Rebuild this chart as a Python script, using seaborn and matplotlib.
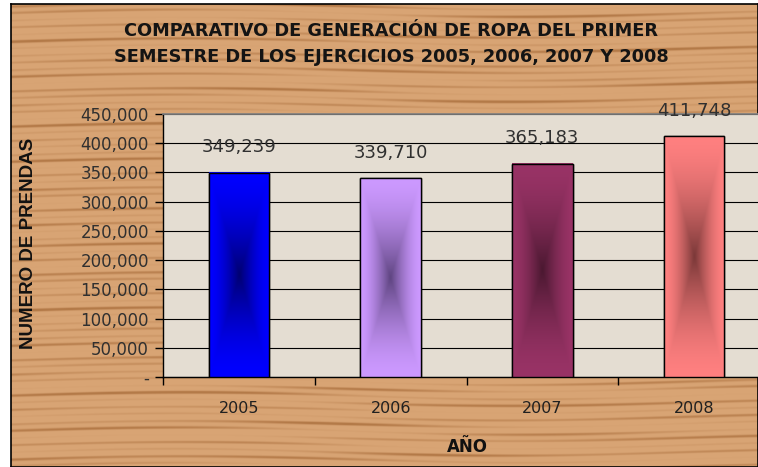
import numpy as np
import pandas as pd
import seaborn as sns
import matplotlib.pyplot as plt
from matplotlib.patches import Rectangle
from matplotlib.colors import to_rgb

# datos
anios = ['2005', '2006', '2007', '2008']
prendas = [349239, 339710, 365183, 411748]
colores = ['#0000FF', '#CC99FF', '#993366', '#FF8080']
centros = ['#000070', '#5E4480', '#4A1830', '#7A3838']
y_ticks = list(range(0, 450001, 50000))

titulo_1 = 'COMPARATIVO DE GENERACIÓN DE ROPA DEL PRIMER'
titulo_2 = 'SEMESTRE DE LOS EJERCICIOS 2005, 2006, 2007 Y 2008'

df = pd.DataFrame({'anio': anios, 'prendas': prendas})

sns.set_theme(style='white')
plt.rcParams['font.family'] = ['DejaVu Sans']

W, H = 758, 467
fig = plt.figure(figsize=(W / 100, H / 100), dpi=100)
fig.patch.set_facecolor('white')

# fondo "madera": vetas horizontales suaves
bg = fig.add_axes([11 / W, 0, 1 - 11 / W, 1 - 4 / H], zorder=-5)
yy = np.linspace(0, 1, 463)[:, None]
xx = np.linspace(0, 1, 747)[None, :]
veta = (np.sin(yy * 410 + 3 * np.sin(xx * 7)) * 0.55 + np.sin(yy * 173 + xx * 4) * 0.35
        + np.sin(yy * 97 + 2 * np.sin(xx * 5)) * 0.2)
veta = np.clip((veta + 0.1) * 0.9, 0, 1) ** 2
claro = np.array(to_rgb('#D8A474'))
oscuro = np.array(to_rgb('#A86C3A'))
bg.imshow(claro + (oscuro - claro) * veta[..., None] * 0.75, aspect='auto', extent=[0, 1, 0, 1],
          interpolation='bilinear')
bg.set_xticks([])
bg.set_yticks([])
for s in bg.spines.values():
    s.set_color('black')
    s.set_linewidth(1.2)

ax = fig.add_axes([163 / W, 1 - 377 / H, 607 / W, 263 / H])
ax.set_facecolor('#E4DDD2')

sns.barplot(data=df, x='anio', y='prendas', hue='anio', palette=colores, width=0.4,
            edgecolor='black', linewidth=1, legend=False, ax=ax, zorder=3)

# degradado desde el centro de cada barra
ny, nx = 240, 60
v = np.linspace(-1, 1, ny)[:, None]
u = np.linspace(-1, 1, nx)[None, :]
t = np.maximum(np.abs(u), np.abs(v))
peso = (1 - t) ** 1.6
for p, c_out, c_in in zip(list(ax.patches), colores, centros):
    a = np.array(to_rgb(c_out))
    b = np.array(to_rgb(c_in))
    img = a + (b - a) * peso[..., None]
    x0, y0, bw, bh = p.get_x(), p.get_y(), p.get_width(), p.get_height()
    ax.imshow(img, extent=[x0, x0 + bw, y0, y0 + bh], aspect='auto', zorder=3.5,
              interpolation='bilinear')
    ax.add_patch(Rectangle((x0, y0), bw, bh, fill=False, edgecolor='black', lw=1, zorder=4))

for cont in ax.containers:
    ax.bar_label(cont, fmt='{:,.0f}', padding=12, fontsize=13, color='#303030', zorder=5)

ax.set_xlim(-0.5, 3.5)
ax.set_ylim(0, 450000)
ax.set_yticks(y_ticks)
ax.set_yticklabels(['-' if y == 0 else f'{y:,}' for y in y_ticks])
ax.yaxis.grid(True, color='black', lw=0.8)
ax.set_axisbelow(True)

ax.set_xticks(range(len(anios)))
ax.set_xticklabels(anios)
ax.set_xticks([i - 0.5 for i in range(len(anios) + 1)], minor=True)
ax.tick_params(axis='x', which='major', length=0, pad=17, labelsize=11.5, labelcolor='#202020')
ax.tick_params(axis='x', which='minor', bottom=True, length=6, width=1, color='black')
ax.tick_params(axis='y', left=True, length=6, width=1, color='black', pad=4,
               labelsize=12, labelcolor='#303030')

for s in ['left', 'bottom']:
    ax.spines[s].set_color('black')
    ax.spines[s].set_linewidth(1)
ax.spines['top'].set_color('#808080')
ax.spines['right'].set_visible(False)

ax.set_ylabel('NUMERO DE PRENDAS', fontsize=13.5, fontweight='bold', family='Liberation Sans',
              color='#111111')
ax.yaxis.set_label_coords((37 - 163) / 607, (377 - 243) / 263)
ax.set_xlabel('AÑO', fontsize=12, fontweight='bold', color='#111111')
ax.xaxis.set_label_coords((467 - 163) / 607, (377 - 438) / 263)

fig.text(391 / W, 1 - 31 / H, titulo_1, ha='center', va='center', fontsize=12.8,
         fontweight='bold', color='#141414')
fig.text(391 / W, 1 - 57 / H, titulo_2, ha='center', va='center', fontsize=12.8,
         fontweight='bold', color='#141414')

fig.savefig('out.png', dpi=100)
